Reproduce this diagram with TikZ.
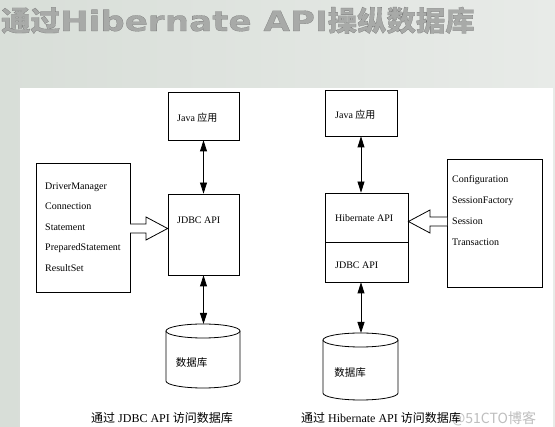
\documentclass[tikz,border=0pt]{standalone}
\usepackage{fontspec}
\setmainfont{Liberation Serif}
\newfontfamily\cjk{Noto Sans CJK SC}
\newfontfamily\titlecjk[FakeBold=0.5,FakeStretch=1.05]{Noto Sans CJK SC}
\newfontfamily\titlelat[FakeStretch=1.22,FakeBold=0.5]{DejaVu Sans}
\usetikzlibrary{arrows.meta}
\definecolor{bgleft}{RGB}{216,222,216}
\definecolor{bgright}{RGB}{232,235,232}
\definecolor{titlegray}{RGB}{168,170,168}
\definecolor{wmgray}{RGB}{190,190,190}
\begin{document}
\begin{tikzpicture}[x=1pt,y=-1pt,
  box/.style={draw=black,line width=0.8pt,inner sep=0pt},
  lbl/.style={anchor=base west,inner sep=0pt,font=\fontsize{10}{12}\selectfont},
  captxt/.style={anchor=base west,inner sep=0pt,font=\fontsize{12}{14}\selectfont},
  dbl/.style={line width=0.8pt,{Triangle[length=11pt,width=7pt]}-{Triangle[length=11pt,width=7pt]}},
  hollow/.style={draw=black,fill=white,line width=0.8pt,line join=miter},
  cyl/.style={draw=black,line width=0.8pt,fill=white}]
\useasboundingbox (0,0) rectangle (555,427);
\shade[left color=bgleft,right color=bgright] (0,0) rectangle (555,427);
\fill[white] (20,88) rectangle (553,427);

% title
\node[anchor=base west,inner sep=0pt,text=titlegray,font=\fontsize{28}{30}\selectfont\bfseries] (title) at (1,31)
  {\special{pdf:literal direct 0.42 0.42 0.42 RG}\titlecjk 通过\titlelat Hibernate API\titlecjk 操纵数据库};

% ---------- left diagram ----------
\node[box,minimum width=71pt,minimum height=48pt] (java1) at (203.5,116) {};
\node[box,minimum width=71pt,minimum height=81pt] (jdbc1) at (203.5,234.5) {};
\node[box,minimum width=94pt,minimum height=129pt] (drv) at (83,227.5) {};
\node[lbl] (tj1) at (177,121.5) {Java {\cjk 应用}};
\node[lbl] (tjd1) at (177,223.5) {JDBC API};
\node[lbl] (d1) at (45,189.5) {DriverManager};
\node[lbl] (d2) at (45,210) {Connection};
\node[lbl] (d3) at (45,230.5) {Statement};
\node[lbl] (d4) at (45,251) {PreparedStatement};
\node[lbl] (d5) at (45,271.5) {ResultSet};

\draw[hollow] (130,224) -- (146,224) -- (146,217) -- (jdbc1.west |- 0,228.5) -- (146,240) -- (146,233) -- (130,233);

% cylinder left
\coordinate (db1top) at (203,324);
\draw[cyl] (166,331) -- (166,381) arc[start angle=180,end angle=0,x radius=37,y radius=7] -- (240,331);
\draw[cyl] (203,331) ellipse[x radius=37,y radius=7];
\node[inner sep=0pt,font=\cjk\fontsize{10.5}{12}\selectfont] (db1) at (191.5,363) {数据库};

\draw[dbl] (java1.south) -- (jdbc1.north);
\draw[dbl] (jdbc1.south) -- (jdbc1.south |- db1top);

% ---------- right diagram ----------
\node[box,minimum width=72pt,minimum height=46pt] (java2) at (361,113) {};
\node[box,minimum width=83pt,minimum height=49pt] (hib) at (366.5,217.5) {};
\node[box,minimum width=83pt,minimum height=40pt] (jdbc2) at (366.5,262) {};
\node[box,minimum width=95pt,minimum height=128pt] (cfg) at (494.5,223) {};
\node[lbl] (tj2) at (335,118.5) {Java {\cjk 应用}};
\node[lbl] (thib) at (335,221.5) {Hibernate API};
\node[lbl] (tjd2) at (335,268.5) {JDBC API};
\node[lbl] (c1) at (452,182.5) {Configuration};
\node[lbl] (c2) at (452,203.5) {SessionFactory};
\node[lbl] (c3) at (452,224.5) {Session};
\node[lbl] (c4) at (452,245.5) {Transaction};

\draw[hollow] (447,217) -- (430,217) -- (430,210) -- (hib.east |- 0,221.5) -- (430,233) -- (430,226) -- (447,226);

% cylinder right
\coordinate (db2top) at (361,333);
\draw[cyl] (323,340) -- (323,393) arc[start angle=180,end angle=0,x radius=37.5,y radius=7] -- (398,340);
\draw[cyl] (360.5,340) ellipse[x radius=37.5,y radius=7];
\node[inner sep=0pt,font=\cjk\fontsize{10.5}{12}\selectfont] (db2) at (350,373) {数据库};

\draw[dbl] (java2.south) -- (java2.south |- hib.north);
\draw[dbl] (java2.south |- jdbc2.south) -- (java2.south |- db2top);

% captions
\node[anchor=base west,inner sep=0pt,text=wmgray,font=\cjk\fontsize{14}{16}\selectfont] (wm) at (452,423.5) {@51CTO博客};
\node[captxt] (cap1) at (91,422.5) {{\cjk 通过} JDBC API {\cjk 访问数据库}};
\node[captxt] (cap2) at (301,422.5) {{\cjk 通过} Hibernate API {\cjk 访问数据库}};
\end{tikzpicture}
\end{document}
